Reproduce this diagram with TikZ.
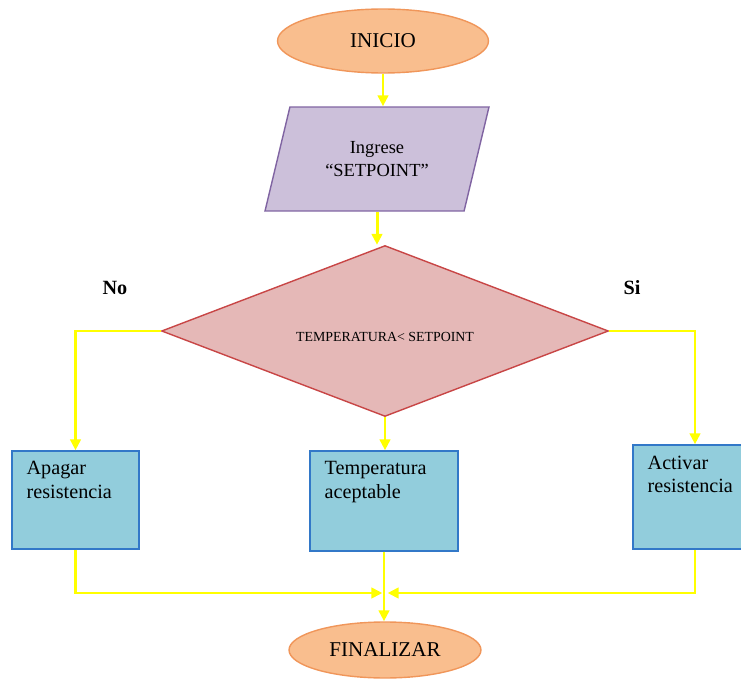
\documentclass[tikz,border=0pt]{standalone}
\usepackage{fontspec}
\setmainfont{Liberation Serif}
\usetikzlibrary{arrows.meta,shapes.geometric}
\definecolor{termfill}{RGB}{249,190,142}
\definecolor{termdraw}{RGB}{240,150,90}
\definecolor{iofill}{RGB}{204,192,218}
\definecolor{iodraw}{RGB}{128,100,162}
\definecolor{decfill}{RGB}{229,184,183}
\definecolor{decdraw}{RGB}{200,70,70}
\definecolor{procfill}{RGB}{146,205,220}
\definecolor{procdraw}{RGB}{50,120,200}
\definecolor{flow}{RGB}{255,255,0}

\begin{document}
\begin{tikzpicture}[x=0.02cm,y=-0.02cm,>={Triangle[length=2.2mm,width=2.1mm]},
	term/.style={ellipse,draw=termdraw,fill=termfill,thick,font=\fontsize{12}{14}\selectfont},
	io/.style={trapezium,trapezium left angle=62,trapezium right angle=118,trapezium stretches body,
		draw=iodraw,fill=iofill,thick,align=center,minimum width=4.48cm,minimum height=2.08cm,
		font=\fontsize{10.5}{13}\selectfont},
	dec/.style={diamond,aspect=2.61,draw=decdraw,fill=decfill,thick,minimum width=8.94cm,minimum height=3.42cm,
		inner sep=0pt,text height=0.42cm,text depth=0pt,font=\fontsize{7.9}{10}\selectfont},
	proc/.style={rectangle,draw=procdraw,fill=procfill,thick},
	proctext/.style={anchor=north west,align=left,inner sep=0pt,xshift=0.3cm,yshift=-0.22cm,
		font=\fontsize{11.5}{13.6}\selectfont},
	flowline/.style={flow,line width=1.7pt}]
	\clip (0,0) rectangle (741,679);
	% shapes
	\node[term,minimum width=4.22cm,minimum height=1.28cm] (inicio) at (383,41) {INICIO};
	\node[io] (ingrese) at (377,159) {Ingrese\\``SETPOINT''};
	\node[dec] (cond) at (385,331) {TEMPERATURA< SETPOINT};
	\node[proc,minimum width=2.54cm,minimum height=1.96cm] (apagar) at (75.5,500) {};
	\node[proc,minimum width=2.96cm,minimum height=2.0cm] (acept) at (384,501) {};
	\node[proc,minimum width=2.48cm,minimum height=2.08cm] (activar) at (695,497) {};
	\node[proctext] (apagar-t) at (apagar.north west) {Apagar\\resistencia};
	\node[proctext] (acept-t) at (acept.north west) {Temperatura\\aceptable};
	\node[proctext] (activar-t) at (activar.north west) {Activar\\resistencia};
	\node[term,minimum width=3.84cm,minimum height=1.12cm] (fin) at (385,650) {FINALIZAR};
	\node[font=\bfseries\fontsize{11.5}{14}\selectfont] (no) at (115,288) {No};
	\node[font=\bfseries\fontsize{11.5}{14}\selectfont] (si) at (632,288) {Si};
	\coordinate (join) at (385,593);
	% connectors
	\draw[flowline,->] (inicio) -- (inicio.south |- ingrese.north);
	\draw[flowline,->] (ingrese.south) -- (ingrese.south |- cond.north);
	\draw[flowline,->] (cond.west) -| (apagar.north);
	\draw[flowline,->] (cond.east) -| (activar.north);
	\draw[flowline,->] (cond.south) -- (cond.south |- acept.north);
	\draw[flowline,->,shorten >=1.5pt] (apagar.south) |- (join);
	\draw[flowline,->,shorten >=1.5pt] (activar.south) |- (join);
	\draw[flowline,->] (acept.south) -- (acept.south |- fin.north);
\end{tikzpicture}
\end{document}
